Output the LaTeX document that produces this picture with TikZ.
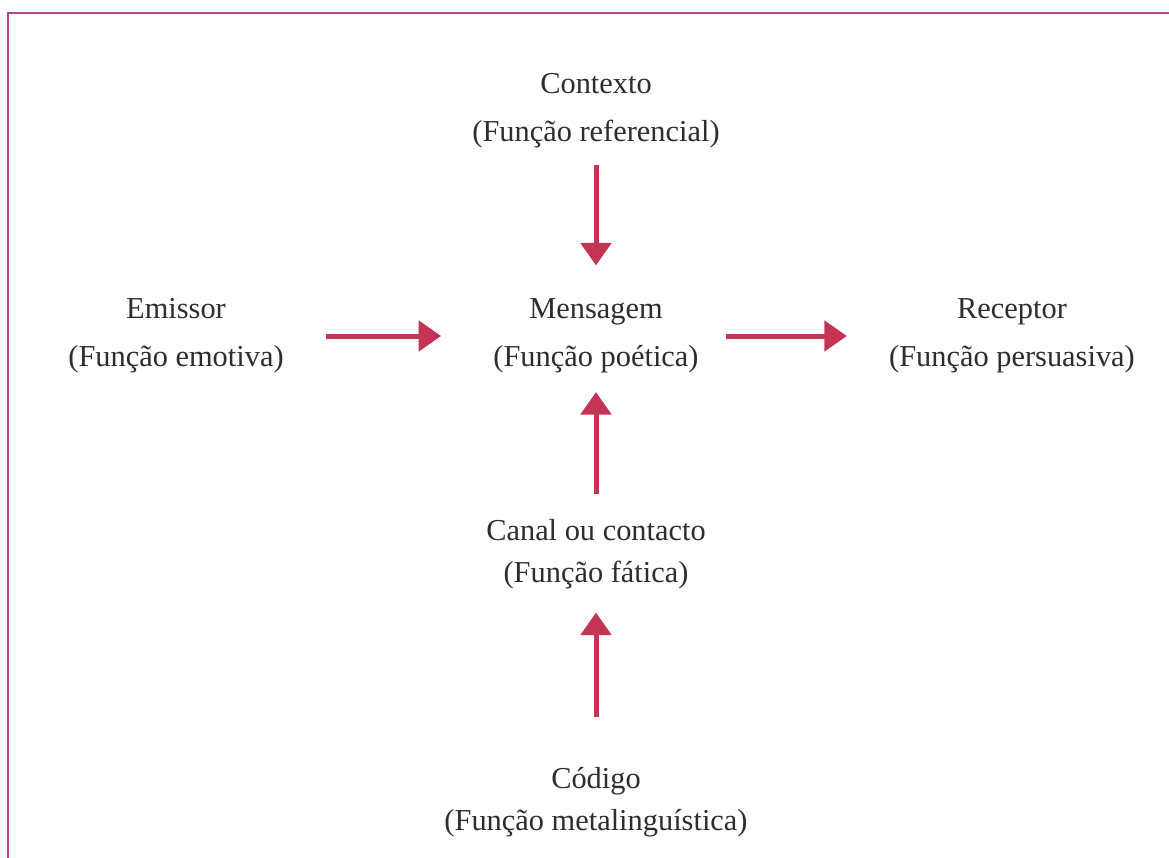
\documentclass[tikz,border=0pt]{standalone}
\usepackage{fontspec}
\setmainfont{Liberation Serif}
\usetikzlibrary{arrows.meta}
\definecolor{setared}{RGB}{196,52,84}
\definecolor{textgray}{RGB}{45,45,45}
\definecolor{framepink}{RGB}{180,70,150}

\begin{document}
\begin{tikzpicture}[x=0.02cm, y=0.02cm,
    funcao/.style={align=center, inner sep=0pt, text=textgray, font=\fontsize{17.3}{27.3}\selectfont},
    compacto/.style={font=\fontsize{17.3}{23.8}\selectfont},
    seta/.style={draw=setared, line width=0.1cm, -{Triangle[length=0.45cm, width=0.6cm]}}]
    \useasboundingbox (0,0) rectangle (1169,-858);

    % Frame (top and left edges)
    \draw[framepink, line width=0.03cm] (8,-858) -- (8,-13) -- (1169,-13);

    % Factors and functions
    \node[funcao] (contexto) at (596,-111) {Contexto\\(Função referencial)};
    \node[funcao] (emissor) at (176,-336) {Emissor\\(Função emotiva)};
    \node[funcao] (mensagem) at (596,-336) {Mensagem\\(Função poética)};
    \node[funcao] (receptor) at (1012,-336) {Receptor\\(Função persuasiva)};
    \node[funcao, compacto] (canal) at (596,-554) {Canal ou contacto\\(Função fática)};
    \node[funcao, compacto] (codigo) at (596,-802) {Código\\(Função metalinguística)};

    % Arrows
    \draw[seta, shorten <=0.33cm, shorten >=0.66cm] (contexto.south) -- (mensagem.north);
    \draw[seta, shorten <=0.84cm, shorten >=1.04cm] (emissor.east) -- (mensagem.west);
    \draw[seta, shorten <=0.54cm, shorten >=0.84cm] (mensagem.east) -- (receptor.west);
    \draw[seta, shorten <=0.5cm, shorten >=0.37cm] (canal.north) -- (mensagem.south);
    \draw[seta, shorten <=1.0cm, shorten >=0.47cm] (codigo.north) -- (canal.south);
\end{tikzpicture}
\end{document}
